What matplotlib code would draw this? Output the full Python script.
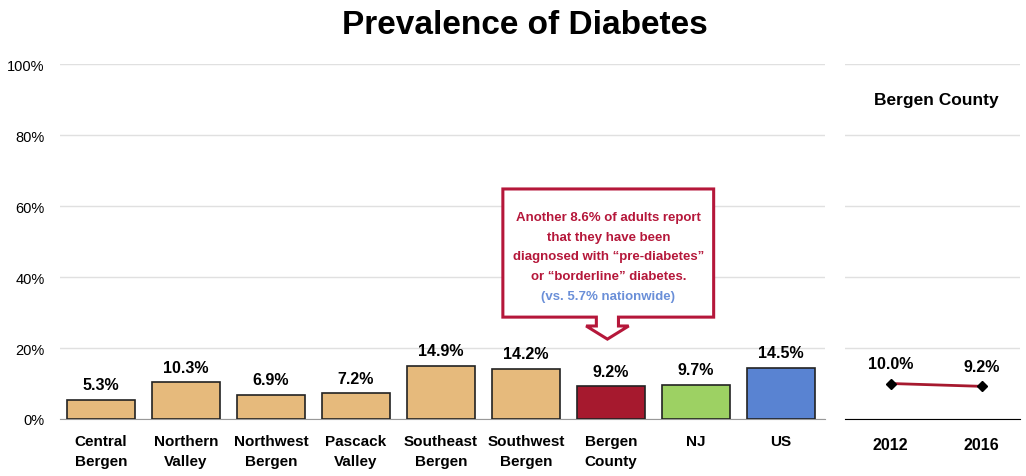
import numpy as np
import matplotlib.pyplot as plt
from matplotlib.patches import Polygon

plt.rcParams['font.family'] = ['Liberation Sans', 'DejaVu Sans']

regions = ['Central\nBergen', 'Northern\nValley', 'Northwest\nBergen', 'Pascack\nValley',
           'Southeast\nBergen', 'Southwest\nBergen', 'Bergen\nCounty', 'NJ', 'US']
values = [5.3, 10.3, 6.9, 7.2, 14.9, 14.2, 9.2, 9.7, 14.5]
colors = ['#E6BA7C'] * 6 + ['#A6192E', '#9DD163', '#5983D2']

years = ['2012', '2016']
trend = [10.0, 9.2]

fig = plt.figure(figsize=(10.26, 4.77), dpi=100)
ax = fig.add_axes([0.0585, 0.1195, 0.7456, 0.7442])
ax2 = fig.add_axes([0.8236, 0.1195, 0.1706, 0.7442])

x = np.arange(len(values))
bars = ax.bar(x, values, 0.8, color=colors, edgecolor='#222222', linewidth=1.2, zorder=3)
for rect, v in zip(bars, values):
    ax.text(rect.get_x() + rect.get_width() / 2, v + 2.2, '%.1f%%' % v,
            ha='center', va='bottom', fontsize=11.5, fontweight='bold')

ax.set_xlim(-0.48, 8.52)
ax.set_ylim(0, 100)
ax.set_yticks(np.arange(0, 101, 20))
ax.set_yticklabels(['%d%%' % t for t in range(0, 101, 20)], fontsize=10.5)
ax.set_xticks(x)
ax.set_xticklabels(regions, fontsize=11, fontweight='bold', linespacing=1.5)
ax.tick_params(axis='x', length=0, pad=11)
ax.tick_params(axis='y', length=0, pad=11)
ax.grid(axis='y', color='#E0E0E0', linewidth=1, zorder=0)
for s in ['top', 'right', 'left']:
    ax.spines[s].set_visible(False)
ax.spines['bottom'].set_color('#999999')

# callout box with arrow
pts = [(4.73, 64.8), (7.21, 64.8), (7.21, 28.7), (6.09, 28.7), (6.09, 26.2), (6.21, 26.2),
       (5.96, 22.5), (5.71, 26.2), (5.83, 26.2), (5.83, 28.7), (4.73, 28.7)]
ax.add_patch(Polygon(pts, closed=True, facecolor='white', edgecolor='#B5173A',
                     linewidth=2.2, zorder=5))
lines = ['Another 8.6% of adults report', 'that they have been',
         'diagnosed with \u201cpre-diabetes\u201d', 'or \u201cborderline\u201d diabetes.']
for i, t in enumerate(lines):
    ax.text(5.97, 57.0 - i * 5.6, t, ha='center', va='center', fontsize=9.5,
            fontweight='bold', color='#B5173A', zorder=6)
ax.text(5.97, 57.0 - 4 * 5.6, '(vs. 5.7% nationwide)', ha='center', va='center',
        fontsize=9.5, fontweight='bold', color='#6A8FD8', zorder=6)

# right panel
xp = np.arange(len(trend))
ax2.plot(xp, trend, color='#A6192E', linewidth=2, marker='D', markersize=5,
         markerfacecolor='black', markeredgecolor='black', zorder=4)
for xi, v in zip(xp, trend):
    ax2.text(xi, v + 3.5, '%.1f%%' % v, ha='center', va='bottom',
             fontsize=11.5, fontweight='bold')
ax2.set_xlim(-0.5, 1.42)
ax2.set_ylim(0, 100)
ax2.set_yticks(np.arange(0, 101, 20))
ax2.set_yticklabels([])
ax2.set_xticks(xp)
ax2.set_xticklabels(years, fontsize=11.5, fontweight='bold')
ax2.tick_params(axis='x', length=0, pad=13)
ax2.tick_params(axis='y', length=0)
ax2.grid(axis='y', color='#E0E0E0', linewidth=1, zorder=0)
for s in ['top', 'right', 'left']:
    ax2.spines[s].set_visible(False)
ax2.spines['bottom'].set_color('black')
ax2.text(0.5, 90, 'Bergen County', ha='center', va='center', fontsize=12.5,
         fontweight='bold')

fig.suptitle('Prevalence of Diabetes', x=0.512, y=0.98, fontsize=24,
             fontweight='bold')

fig.savefig('out.png', dpi=100)
